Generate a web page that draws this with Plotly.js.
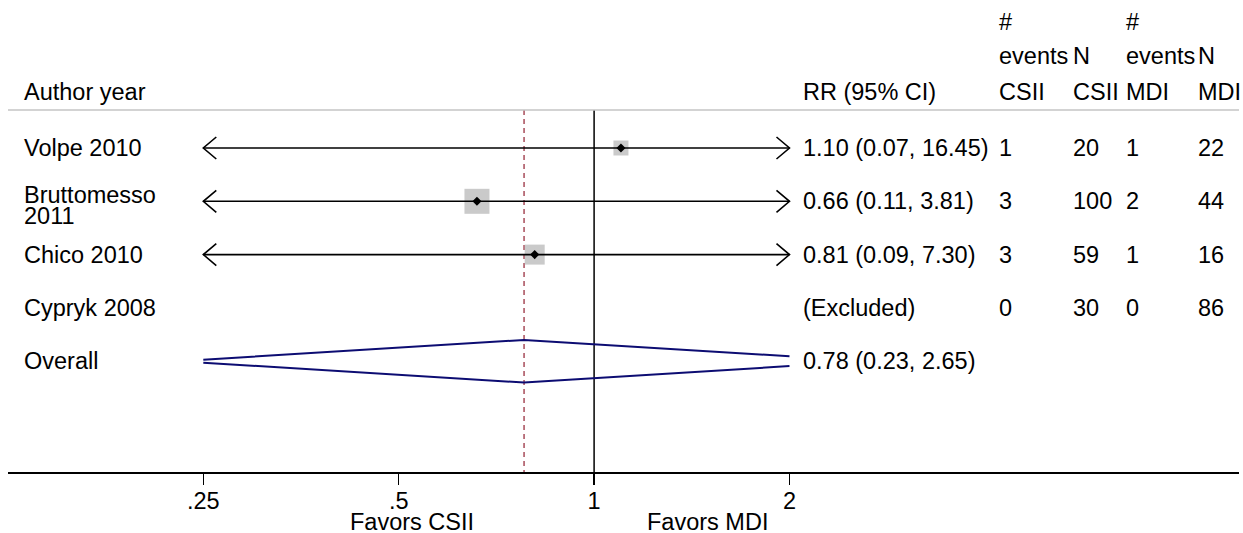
<!DOCTYPE html>
<html>
<head>
<meta charset="utf-8">
<script src="https://cdn.plot.ly/plotly-3.0.1.min.js"></script>
<style>html,body{margin:0;padding:0;background:#fff;}#chart{width:1243px;height:533px;}</style>
</head>
<body>
<div id="chart"></div>
<script>
// ---------- data ----------
const studies = ['Volpe 2010', 'Bruttomesso 2011', 'Chico 2010', 'Cypryk 2008'];
const rr = [1.10, 0.66, 0.81, null];
const ciLow = [0.07, 0.11, 0.09, null];
const ciHigh = [16.45, 3.81, 7.30, null];
const eventsCSII = [1, 3, 3, 0];
const nCSII = [20, 100, 59, 30];
const eventsMDI = [1, 2, 1, 0];
const nMDI = [22, 44, 16, 86];
const weights = [18, 50, 32, 0];
const overallLabel = 'Overall';
const overallRR = 0.78;
const overallLow = 0.23;
const overallHigh = 2.65;
const tickVals = [0.25, 0.5, 1, 2];
const tickText = ['.25', '.5', '1', '2'];
const favorsLabels = ['Favors CSII', 'Favors MDI'];
const headerAuthor = 'Author year';
const headerRR = 'RR (95% CI)';
const headerCols = [
  ['#', 'events', 'CSII'],
  ['', 'N', 'CSII'],
  ['#', 'events', 'MDI'],
  ['', 'N', 'MDI']
];

// ---------- layout constants ----------
const W = 1243, H = 533;
const M = {l: 8, r: 4, t: 110, b: 61};
const plotW = W - M.l - M.r, plotH = H - M.t - M.b;
const xMin = 0.25, xMax = 2;                 // drawing window of the CI scale
const xRange = [-0.90294, 0.99354];           // log10 range of the whole axis
const rowPx0 = 148, rowStep = 53.3;           // pixel row geometry
const yRange = [1 + (H - M.b - rowPx0) / rowStep, 1 + (M.t - rowPx0) / rowStep];
const pxPerDec = plotW / (xRange[1] - xRange[0]);
const FONT = 'Liberation Sans, Arial, Helvetica, sans-serif';
const FS = 23.5;

const px2paper = px => (px - M.l) / plotW;
const py2paper = py => (H - M.b - py) / plotH;

const traces = [];
const annotations = [];
const shapes = [];

// header separator line
shapes.push({type: 'line', xref: 'paper', yref: 'paper', x0: 0, x1: 1, y0: 1, y1: 1,
  line: {color: '#c4c4c4', width: 1.5}});

// reference line at 1 and dashed overall line
traces.push({x: [1, 1], y: [yRange[1], yRange[0]], mode: 'lines', hoverinfo: 'skip',
  line: {color: '#000', width: 1.5}, showlegend: false});
traces.push({x: [overallRR, overallRR], y: [yRange[1], yRange[0]], mode: 'lines', hoverinfo: 'skip',
  line: {color: '#9a3040', width: 1.3, dash: '5px,4px'}, showlegend: false});

// study squares (area ~ weight)
const sqK = 25 / Math.sqrt(50);
const sx = [], sy = [], ss = [];
studies.forEach((s, i) => {
  if (rr[i] == null) return;
  sx.push(rr[i]); sy.push(i + 1); ss.push(sqK * Math.sqrt(weights[i]));
});
traces.push({x: sx, y: sy, mode: 'markers', hoverinfo: 'skip', showlegend: false,
  marker: {symbol: 'square', size: ss, color: '#b4b4b4', line: {width: 0}}});

// CI lines with arrows when truncated
const adx = Math.pow(10, 13 / pxPerDec);
const ady = 11 / rowStep;
studies.forEach((s, i) => {
  if (rr[i] == null) return;
  const y = i + 1;
  const a = Math.max(ciLow[i], xMin), b = Math.min(ciHigh[i], xMax);
  traces.push({x: [a, b], y: [y, y], mode: 'lines', hoverinfo: 'skip', showlegend: false,
    line: {color: '#000', width: 1.6}});
  if (ciLow[i] < xMin) {
    traces.push({x: [xMin * adx, xMin, xMin * adx], y: [y - ady, y, y + ady], mode: 'lines',
      hoverinfo: 'skip', showlegend: false, line: {color: '#000', width: 1.6}});
  }
  if (ciHigh[i] > xMax) {
    traces.push({x: [xMax / adx, xMax, xMax / adx], y: [y - ady, y, y + ady], mode: 'lines',
      hoverinfo: 'skip', showlegend: false, line: {color: '#000', width: 1.6}});
  }
});
traces.push({x: sx, y: sy, mode: 'markers', hoverinfo: 'skip', showlegend: false,
  marker: {symbol: 'diamond', size: 7, color: '#000'}});

// overall diamond, truncated to the window
const yc = studies.length + 1;
const hd = 21.3 / rowStep;
const L = Math.log(overallLow), E = Math.log(overallRR), U = Math.log(overallHigh);
const xl = Math.max(overallLow, xMin), xr = Math.min(overallHigh, xMax);
const hl = hd * (Math.log(xl) - L) / (E - L);
const hr = hd * (U - Math.log(xr)) / (U - E);
traces.push({x: [xl, overallRR, xr], y: [yc - hl, yc - hd, yc - hr], mode: 'lines',
  hoverinfo: 'skip', showlegend: false, line: {color: '#0c0c72', width: 2}});
traces.push({x: [xl, overallRR, xr], y: [yc + hl, yc + hd, yc + hr], mode: 'lines',
  hoverinfo: 'skip', showlegend: false, line: {color: '#0c0c72', width: 2}});

// ---------- text ----------
const baseFont = {family: FONT, size: FS, color: '#000'};
const txt = (text, pxX, yv) => ({
  text: text, xref: 'paper', yref: 'y', x: px2paper(pxX), y: yv,
  xanchor: 'left', yanchor: 'middle', showarrow: false, font: baseFont
});
const txtP = (text, pxX, py) => ({
  text: text, xref: 'paper', yref: 'paper', x: px2paper(pxX), y: py2paper(py),
  xanchor: 'left', yanchor: 'middle', showarrow: false, font: baseFont
});

const colX = {label: 22, rr: 801, c1: 997, c2: 1071, c3: 1124, c4: 1196};

annotations.push(txtP(headerAuthor, colX.label, 92));
annotations.push(txtP(headerRR, colX.rr, 92));
const hdrPy = [22, 56, 92];
[colX.c1, colX.c2, colX.c3, colX.c4].forEach((cx, j) => {
  headerCols[j].forEach((t, k) => { if (t) annotations.push(txtP(t, cx, hdrPy[k])); });
});

const fmt = v => v.toFixed(2);
studies.forEach((s, i) => {
  const y = i + 1;
  if (s.length > 13) {
    const cut = s.lastIndexOf(' ');
    annotations.push(txt(s.slice(0, cut), colX.label, y - 6 / rowStep));
    annotations.push(txt(s.slice(cut + 1), colX.label, y + 15 / rowStep));
  } else {
    annotations.push(txt(s, colX.label, y));
  }
  const rrText = rr[i] == null ? '(Excluded)' : fmt(rr[i]) + ' (' + fmt(ciLow[i]) + ', ' + fmt(ciHigh[i]) + ')';
  annotations.push(txt(rrText, colX.rr, y));
  annotations.push(txt(String(eventsCSII[i]), colX.c1, y));
  annotations.push(txt(String(nCSII[i]), colX.c2, y));
  annotations.push(txt(String(eventsMDI[i]), colX.c3, y));
  annotations.push(txt(String(nMDI[i]), colX.c4, y));
});
annotations.push(txt(overallLabel, colX.label, yc));
annotations.push(txt(fmt(overallRR) + ' (' + fmt(overallLow) + ', ' + fmt(overallHigh) + ')', colX.rr, yc));

// favors labels under the axis
const favPx = [411.5, 707.6];
favorsLabels.forEach((t, j) => {
  annotations.push({text: t, xref: 'paper', yref: 'paper', x: px2paper(favPx[j]),
    y: py2paper(522), xanchor: 'center', yanchor: 'middle', showarrow: false, font: baseFont});
});

const layout = {
  width: W, height: H,
  margin: M,
  paper_bgcolor: '#fff', plot_bgcolor: '#fff',
  showlegend: false,
  xaxis: {type: 'log', range: xRange, tickvals: tickVals, ticktext: tickText,
    showgrid: false, zeroline: false, showline: true, linecolor: '#000', linewidth: 1.5,
    ticks: 'outside', ticklen: 11, tickwidth: 1.5, tickcolor: '#000',
    tickfont: baseFont, ticklabelstandoff: -4, fixedrange: true},
  yaxis: {range: yRange, visible: false, showgrid: false, zeroline: false, fixedrange: true},
  shapes: shapes,
  annotations: annotations
};

Plotly.newPlot('chart', traces, layout, {staticPlot: true, displayModeBar: false});
</script>
</body>
</html>
